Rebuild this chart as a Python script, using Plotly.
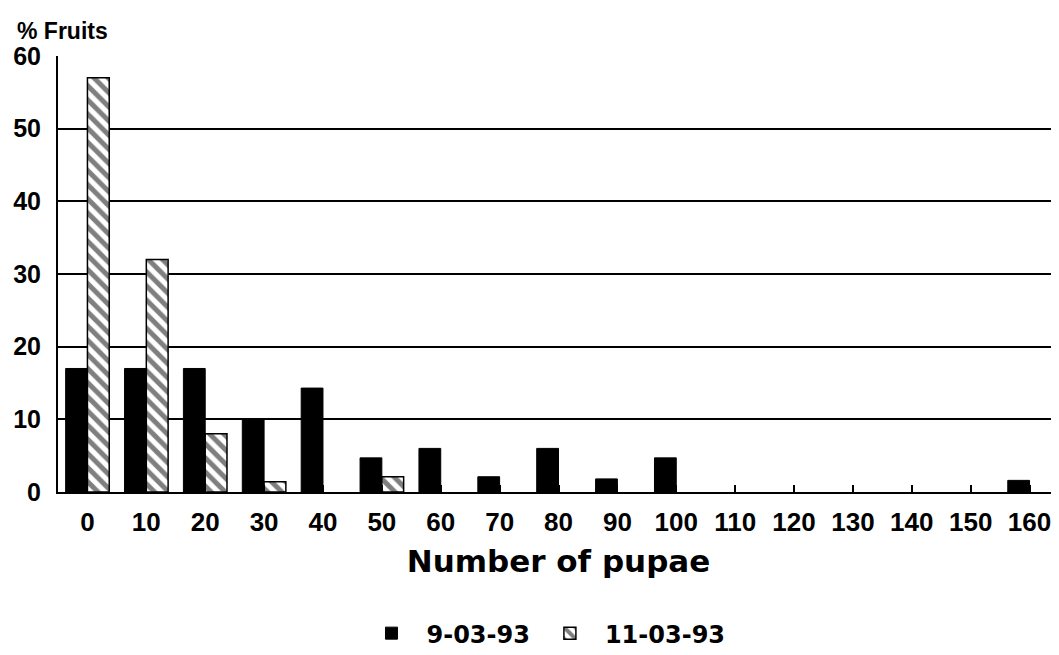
import plotly.graph_objects as go

# ── Data ──────────────────────────────────────────────
pupae = ["0", "10", "20", "30", "40", "50", "60", "70", "80",
         "90", "100", "110", "120", "130", "140", "150", "160"]
fruits_9_03 = [17, 17, 17, 10, 14.3, 4.7, 6, 2.1, 6, 1.8, 4.7, 0, 0, 0, 0, 0, 1.6]
fruits_11_03 = [57, 32, 8, 1.4, 0, 2.1, 0, 0, 0, 0, 0, 0, 0, 0, 0, 0, 0]
y_ticks = [0, 10, 20, 30, 40, 50, 60]

FONT = "Liberation Sans, Arial, sans-serif"
WIDE_FONT = "DejaVu Sans, Liberation Sans, sans-serif"


def outline(values, w):
    # no outline on empty bars, so nothing is drawn along the baseline
    return [w if v > 0 else 0 for v in values]


fig = go.Figure()
fig.add_trace(go.Bar(
    x=pupae, y=fruits_9_03, name="9-03-93",
    marker=dict(color="black",
                line=dict(color="black", width=outline(fruits_9_03, 1))),
))
fig.add_trace(go.Bar(
    x=pupae, y=fruits_11_03, name="11-03-93",
    marker=dict(
        color="white",
        line=dict(color="black", width=outline(fruits_11_03, 1.5)),
        pattern=dict(shape="\\", fgcolor="black", bgcolor="white",
                     size=10, solidity=0.5),
    ),
))

# page body has an 8px margin, so the figure is 8px smaller than the window
fig.update_layout(
    width=1051, height=647,
    paper_bgcolor="white", plot_bgcolor="white",
    barmode="group", bargap=0.26, bargroupgap=0,
    margin=dict(l=50, r=0, t=48, b=163, autoexpand=False),
    font=dict(family=FONT, color="black", size=22, weight="bold"),
    showlegend=True,
    legend=dict(
        orientation="h", x=0.485, xanchor="center", y=-0.273, yanchor="top",
        font=dict(size=24, family=WIDE_FONT, weight="bold"),
        itemwidth=60,
    ),
    xaxis=dict(
        range=[-0.5, 16.5],
        showgrid=False, showline=True, linecolor="black", linewidth=2,
        ticks="inside", ticklen=7, tickcolor="black", tickwidth=2,
        tickfont=dict(size=26), ticklabelstandoff=6,
        title=dict(text="Number of pupae",
                   font=dict(size=31, family=WIDE_FONT), standoff=14),
        mirror=False,
    ),
    yaxis=dict(
        range=[0, 60], tickvals=y_ticks,
        showgrid=True, gridcolor="black", gridwidth=1.5,
        showline=True, linecolor="black", linewidth=2, mirror=True,
        ticks="", tickfont=dict(size=25), ticklabelstandoff=10,
        zeroline=False,
    ),
    annotations=[dict(
        text="% Fruits", xref="paper", yref="paper", x=-0.043, y=1.022,
        xanchor="left", yanchor="bottom", showarrow=False,
        font=dict(size=23, family=FONT, weight="bold"),
    )],
)

fig.write_html("out.html")
